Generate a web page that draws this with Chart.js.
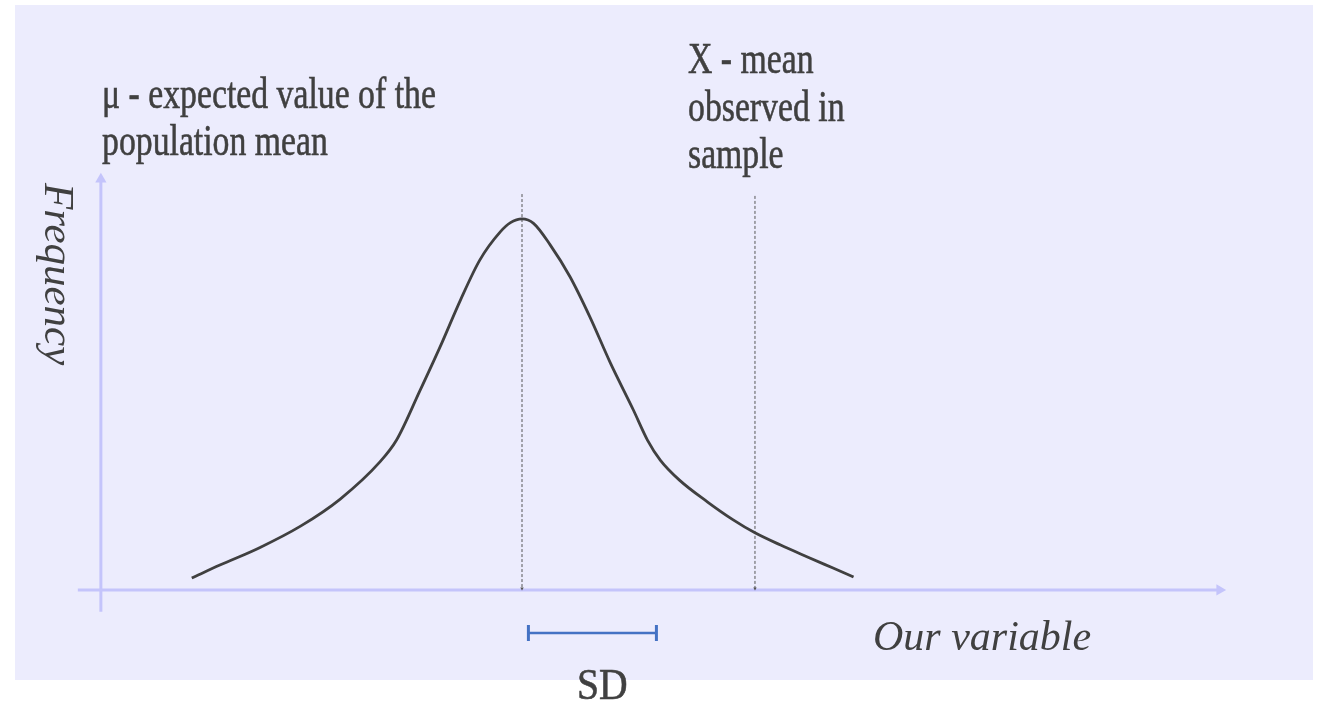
<!DOCTYPE html>
<html>
<head>
<meta charset="utf-8">
<script src="https://cdn.jsdelivr.net/npm/chart.js@4"></script>
<style>
  html, body { margin: 0; padding: 0; background: #ffffff; }
  canvas { display: block; }
</style>
</head>
<body>
<canvas id="distChart" width="1320" height="702"></canvas>
<script>
// values in SD units (x) and relative frequency (y)
const curveX = [-2.58, -2.36, -2.05, -1.73, -1.42, -1.11, -0.98, -0.80, -0.64, -0.48, -0.33, -0.17, -0.09, 0,
                0.09, 0.22, 0.375, 0.53, 0.69, 0.87, 0.98, 1.08, 1.23, 1.45, 1.65, 1.82, 2.02, 2.23, 2.43, 2.59];
const curveY = [0.032, 0.067, 0.114, 0.172, 0.245, 0.345, 0.404, 0.535, 0.655, 0.782, 0.889, 0.965, 0.99, 1.0,
                0.988, 0.93, 0.844, 0.736, 0.612, 0.485, 0.404, 0.35, 0.296, 0.237, 0.189, 0.154, 0.121, 0.089, 0.059, 0.035];

const populationMean = 0;
const sampleMean = 1.82;
const meanLineTops = [1.067, 1.062];
const sdRange = [0.05, 1.05];
const sdLevel = -0.116;

const labels = {
  mu: ["\u03bc - expected value of the", "population mean"],
  sample: ["X - mean", "observed in", "sample"],
  xTitle: "Our variable",
  yTitle: "Frequency",
  sd: "SD"
};

const ink = "#404040";
const axisColor = "#c4c4fb";

const curve = curveX.map((x, i) => ({ x: x, y: curveY[i] }));

// fill + thin stroke so the squeezed glyphs keep their weight
function heavyText(c, text, x, y) {
  c.fillText(text, x, y);
  c.strokeText(text, x, y);
}

// panel + text, drawn in plain canvas
const slidePlugin = {
  id: "slide",
  beforeDraw(chart) {
    const c = chart.ctx;
    c.save();
    c.fillStyle = "#ececfd";
    c.fillRect(15, 5, 1298, 675);
    c.restore();
  },
  afterDraw(chart) {
    const c = chart.ctx;
    c.save();
    c.fillStyle = ink;
    c.strokeStyle = ink;
    c.lineWidth = 0.6;
    c.textBaseline = "alphabetic";

    // upright labels are narrow in the original
    const sx = 0.75;
    c.save();
    c.font = "45px 'Liberation Serif'";
    c.scale(sx, 1);
    heavyText(c, labels.mu[0], 102 / sx, 108);
    heavyText(c, labels.mu[1], 102 / sx, 155);
    heavyText(c, labels.sample[0], 688 / sx, 73);
    heavyText(c, labels.sample[1], 688 / sx, 121);
    heavyText(c, labels.sample[2], 688 / sx, 168);
    c.restore();

    c.save();
    c.font = "44px 'Liberation Serif'";
    c.scale(0.9, 1);
    heavyText(c, labels.sd, 577 / 0.9, 699);
    c.restore();

    c.font = "italic 42px 'Liberation Serif'";
    c.fillText(labels.xTitle, 873, 650);

    c.save();
    c.translate(45, 183);
    c.rotate(Math.PI / 2);
    c.font = "italic 43px 'Liberation Serif'";
    c.fillText(labels.yTitle, 0, 0);
    c.restore();

    c.restore();
  }
};

new Chart(document.getElementById("distChart"), {
  type: "line",
  data: {
    datasets: [
      {
        label: "curve",
        data: curve,
        borderColor: ink,
        borderWidth: 2.8,
        pointRadius: 0,
        cubicInterpolationMode: "monotone",
        order: 0
      },
      {
        label: "mu",
        data: [{ x: populationMean, y: meanLineTops[0] }, { x: populationMean, y: 0.004 }],
        borderColor: "#555555",
        borderWidth: 1,
        borderDash: [3, 2],
        pointRadius: [0, 2],
        pointStyle: "triangle",
        rotation: 180,
        pointBackgroundColor: "#555555",
        pointBorderWidth: 0,
        order: 1
      },
      {
        label: "sample",
        data: [{ x: sampleMean, y: meanLineTops[1] }, { x: sampleMean, y: 0.004 }],
        borderColor: "#555555",
        borderWidth: 1,
        borderDash: [3, 2],
        pointRadius: [0, 2],
        pointStyle: "triangle",
        rotation: 180,
        pointBackgroundColor: "#555555",
        pointBorderWidth: 0,
        order: 1
      },
      {
        label: "sd",
        data: [{ x: sdRange[0], y: sdLevel }, { x: sdRange[1], y: sdLevel }],
        borderColor: "#4472c4",
        borderWidth: 2.5,
        pointStyle: "line",
        rotation: 90,
        pointRadius: 8,
        pointBorderColor: "#4472c4",
        pointBorderWidth: 3,
        order: 1
      },
      {
        label: "xAxis",
        data: [{ x: -3.47, y: 0 }, { x: 5.45, y: 0 }],
        borderColor: axisColor,
        borderWidth: 3,
        pointStyle: "triangle",
        rotation: 90,
        pointRadius: [0, 6.5],
        pointBackgroundColor: axisColor,
        pointBorderWidth: 0,
        order: 3
      },
      {
        label: "yAxis",
        data: [{ x: -3.29, y: -0.059 }, { x: -3.29, y: 1.107 }],
        borderColor: axisColor,
        borderWidth: 3,
        pointStyle: "triangle",
        rotation: 0,
        pointRadius: [0, 6.5],
        pointBackgroundColor: axisColor,
        pointBorderWidth: 0,
        order: 3
      }
    ]
  },
  options: {
    responsive: false,
    animation: false,
    events: [],
    layout: { padding: 0, autoPadding: false },
    scales: {
      x: { type: "linear", min: -4.078, max: 6.234, display: false },
      y: { type: "linear", min: -0.302, max: 1.590, display: false }
    },
    plugins: {
      legend: { display: false },
      tooltip: { enabled: false }
    }
  },
  plugins: [slidePlugin]
});
</script>
</body>
</html>
